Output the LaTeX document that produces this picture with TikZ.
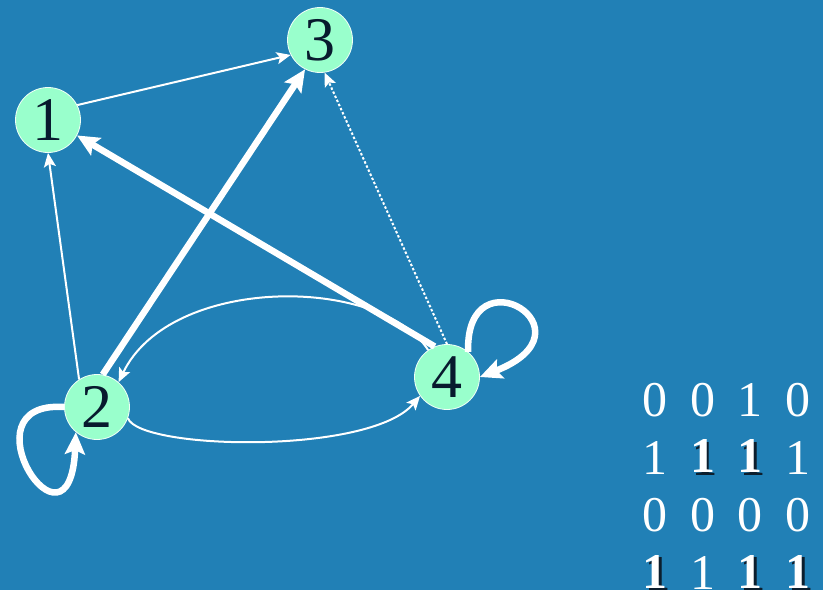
\documentclass[tikz,border=0pt]{standalone}
\usepackage{fontspec}
\setmainfont{Liberation Serif}
\usetikzlibrary{arrows.meta}
\definecolor{bgblue}{RGB}{33,128,182}
\definecolor{mint}{RGB}{153,255,204}
\definecolor{ink}{RGB}{8,26,46}
\definecolor{shade}{RGB}{12,30,45}
\newcommand{\bone}{\makebox[0pt][l]{\kern2.5pt\raisebox{-2.5pt}{\color{shade}\textbf{1}}}\textbf{1}}
\tikzset{
  vertex/.style={circle,fill=mint,draw=white!85!mint,line width=0.8pt,minimum size=65pt,inner sep=0pt,
    text=ink,font=\fontsize{62}{62}\selectfont},
  entry/.style={text=white,inner sep=0pt,font=\fontsize{50}{50}\selectfont},
  thinedge/.style={draw=white,line width=2pt,-{Stealth[length=14pt,width=12pt,inset=3pt]}},
  thickedge/.style={draw=white,line width=6.5pt,-{Stealth[length=22pt,width=20pt,inset=4pt]}},
  dotedge/.style={thinedge,dash pattern=on 2.5pt off 2pt}
}
\begin{document}
\begin{tikzpicture}[x=1pt,y=-1pt]
  \fill[bgblue] (0,0) rectangle (823,590);
  \useasboundingbox (0,0) rectangle (823,590);
  % vertices
  \node[vertex] (n1) at (48,120) {1};
  \node[vertex] (n2) at (97,407) {2};
  \node[vertex] (n3) at (320,40) {3};
  \node[vertex] (n4) at (447,377) {4};
  % edges
  \draw[thinedge] (n1.27) -- (n3.207);
  \draw[thinedge] (n2.123) -- (n1.270);
  \draw[thickedge] (n2.80) -- (n3.243);
  \draw[thickedge] (n4.112) -- (n1.-28);
  \draw[dotedge] (n4.90) -- (n3.-82);
  \draw[thinedge] (n4.125) .. controls (380,275) and (170,275) .. (n2.49);
  \draw[thinedge] (n2.-20) .. controls (140,450) and (370,455) .. (n4.215);
  \draw[thickedge] (n2.180) .. controls (-40,400) and (70,570) .. (n2.230);
  \draw[thickedge] (n4.50) .. controls (465,250) and (600,330) .. (n4.0);
  % matrix
  \foreach \v [count=\i, evaluate=\i as \c using {int(mod(\i-1,4))},
      evaluate=\i as \r using {int((\i-1)/4)}] in
      {0,0,1,0, 1,\bone,\bone,1, 0,0,0,0, \bone,1,\bone,\bone}
    \node[entry] (m\r\c) at ({655+47.7*\c},{400+57.7*\r}) {\v};
\end{tikzpicture}
\end{document}
